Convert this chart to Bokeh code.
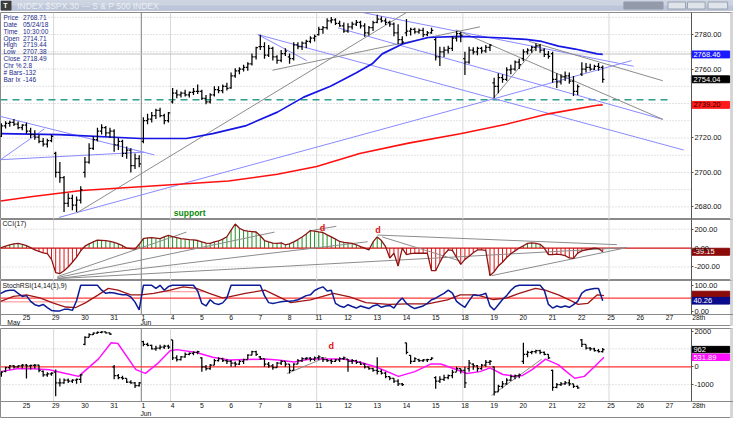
from bokeh.plotting import figure
from bokeh.models import Range1d, FixedTicker, NumeralTickFormatter, Label, LinearAxis
from bokeh.layouts import column
from bokeh.embed import file_html
from bokeh.resources import INLINE
from bokeh.core.properties import value

FONT = "Liberation Sans"

# ---------------- data ----------------
# hourly bars, index 0 = 24 May 10:30, 7 bars per session
price_open = [2714.71,2721,2727,2728.5,2729,2728,2726,
 2727.5,2724,2722,2720.5,2718,2716.5,2718.5,
 2711,2700,2697,2682,2685,2681,2684,
 2700,2706,2714,2719,2724,2726,2723,
 2724,2716,2718,2711,2713,2704,2708,
 2718,2730,2731,2733,2736,2733,2730,
 2741,2746,2745,2746,2745,2746.5,2747,
 2747,2743,2741,2745,2748,2747.5,2750,
 2749,2756,2759,2760,2761,2763,2767,
 2773,2773,2768,2772,2767,2765,2769,
 2767,2766,2774,2773,2775,2776,2778,
 2780,2783,2784,2788,2788.5,2786.5,2785,
 2782,2784.5,2786,2787,2785,2781,2784,
 2787,2789,2788,2787,2786,2781,2777,
 2781,2782,2783,2781.5,2782.5,2780,2781,
 2777,2767,2770,2771,2772,2778,2780.5,
 2766,2764,2771,2770,2772,2770.5,2772.5,
 2752,2750,2755,2754,2759.5,2760,2764,
 2766,2770,2771,2772.5,2773.5,2771,2768.5,
 2769,2754,2752.5,2755.5,2756,2753,2747,
 2757,2760,2761,2760,2761.5,2761]
price_high = [2719.44,2728.5,2729.7,2730,2731,2729.5,2728,
 2729,2726,2724.5,2722,2720,2719.5,2722,
 2712,2706,2698,2688,2687,2686,2692,
 2709,2717,2721,2726,2728,2727,2726,
 2725,2720,2719,2715,2714,2711,2710,
 2732,2734,2735,2737,2737.5,2734,2735,
 2749,2748,2747,2748,2747,2749,2751,
 2748,2745,2746,2750,2750,2751,2752,
 2758,2760.5,2761,2762.5,2764,2769,2773,
 2779.9,2775.5,2774,2773,2768,2771,2772,
 2769,2775.5,2775.5,2776,2777,2779,2780,
 2784.5,2785,2789.5,2790.2,2789.5,2788,2787,
 2786.5,2787.5,2788.5,2788,2786.5,2785,2788,
 2791.5,2790.5,2789.5,2788,2787,2786,2779,
 2789,2784,2784,2783.5,2784,2782,2784,
 2778,2773,2773,2773.5,2779,2782,2781.5,
 2770,2773,2772.7,2773,2773,2774,2774.5,
 2755,2757.5,2757,2761,2762.5,2765,2766,
 2771.5,2772,2773.5,2775,2774.5,2772,2770.5,
 2770,2757.5,2757,2758.5,2758,2756,2751,
 2764,2763.5,2763,2762.5,2763.5,2762]
price_low = [2707.38,2720.5,2725.5,2726.5,2727,2725,2724.5,
 2722.5,2720,2719,2717,2715,2714.5,2717.5,
 2697,2694,2677,2680,2678,2677,2682,
 2697,2705,2713,2718,2722,2721,2720,
 2712,2713,2709,2708,2700,2702,2703,
 2717,2728,2729,2731,2732,2728,2729,
 2740,2743,2743.5,2744,2743.5,2745,2745.5,
 2742,2739.5,2740,2744,2746,2746,2747.5,
 2748.5,2755,2757,2758.5,2759,2762,2765.5,
 2771,2766,2767,2765,2763,2764,2767.5,
 2763,2765,2771.5,2771,2772,2775,2776,
 2779.5,2780.5,2783,2786.5,2785.5,2784.5,2781,
 2781,2783,2785,2783.5,2778.8,2779.5,2782,
 2786.5,2787,2785.5,2784.5,2779,2774.5,2774.5,
 2779,2779.5,2780.5,2780.5,2778.5,2779,2780.5,
 2765,2761.7,2767,2769,2770.5,2776,2775.5,
 2756.6,2763,2768.5,2768,2769,2769.5,2770.5,
 2743.2,2746,2752,2753,2757,2759,2760,
 2764.5,2768.5,2769.5,2770.5,2769.5,2767,2766,
 2752,2749,2751,2753,2751.5,2744.4,2745,
 2756,2758,2759,2759.5,2759,2752]
price_close = [2718.49,2727,2728.5,2729,2728,2726,2727.5,
 2724,2722,2720.5,2718,2716.5,2718.5,2721,
 2700,2697,2682,2685,2681,2684,2690,
 2706,2714,2719,2724,2726,2723,2724,
 2716,2718,2711,2713,2704,2708,2705,
 2730,2731,2733,2736,2733,2730,2734.6,
 2746,2745,2746,2745,2746.5,2747,2747,
 2743,2741,2745,2748,2747.5,2750,2748.8,
 2756,2759,2760,2761,2763,2767,2772.4,
 2773,2768,2772,2767,2765,2769,2770.4,
 2766,2774,2773,2775,2776,2778,2779,
 2783,2784,2788,2788.5,2786.5,2785,2782,
 2784.5,2786,2787,2785,2781,2784,2786.9,
 2789,2788,2787,2786,2781,2777,2775.6,
 2782,2783,2781.5,2782.5,2780,2781,2782.5,
 2767,2770,2771,2772,2778,2780.5,2779.7,
 2764,2771,2770,2772,2770.5,2772.5,2773.8,
 2750,2755,2754,2759.5,2760,2764,2762.6,
 2770,2771,2772.5,2773.5,2771,2768.5,2767.3,
 2754,2752.5,2755.5,2756,2753,2747,2749.8,
 2760,2761,2760,2761.5,2761,2754.04]

# moving averages (bar index, level)
ma_fast_bar = [0.8,14.8,34.3,45.3,51.6,59.4,67.1,73.4,79.8,85.9,89.8,92.2,96.9,103.2,110.9,118.7,126.6,130.4,134.4,138.4,143.7,145]
ma_fast_val = [2722.5,2722,2719.7,2719.7,2722.5,2727,2735,2743.7,2750,2757.7,2763,2768.8,2774.4,2778.3,2779,2778.3,2777.2,2776,2773.3,2771.6,2768.8,2768.46]
ma_slow_bar = [0.8,8.5,20.2,34.3,55.4,67.1,76.5,86.8,98.5,110.9,121.9,132,143.7,145]
ma_slow_val = [2683.4,2686,2689.5,2691.7,2695,2699,2703.5,2711,2717,2722.5,2728,2734,2739,2739.2]

support_level = 2742.2
support_end = 161.3
cursor_price = 2768.71

# drawn trend lines (bar0, price0, bar1, price1)
blue_lines = [(0.8,2732.5,37.6,2710.2),(0.8,2707.4,35.2,2711.8),(0.8,2707.4,11.3,2725.3),
              (14.8,2673.9,118.7,2742.6),(118.7,2742.6,151.9,2764.9),(87.5,2792.8,152.4,2761.6),
              (62.4,2780.0,164.4,2713.0),(81.6,2783.9,159.4,2730.8),(62.4,2780.0,74.1,2764.9)]
gray_lines = [(19.1,2676.6,98.0,2792.8),(65.9,2759.3,115.6,2784.5),(109.8,2782.8,159.4,2730.8),
              (127.3,2776.1,159.4,2753.2),(118.7,2742.6,129.7,2774.4)]

cci = [0,5,20,33,45,50,40,
 25,5,-20,-35,-50,-60,-120,
 -260,-270,-240,-200,-150,-95,-30,
 20,45,65,85,82,78,70,
 60,45,25,0,-5,-12,40,
 100,108,110,105,100,118,135,
 120,110,100,95,90,87,80,
 65,52,50,65,75,95,120,
 190,255,210,187,180,175,170,
 130,80,65,52,50,55,35,
 45,65,90,118,150,185,180,
 172,165,140,118,95,70,60,
 55,50,35,15,0,-20,65,
 118,80,15,-105,-55,-190,0,
 -70,-60,-53,-55,-55,-53,-240,
 -240,-150,-70,-20,-25,-100,-172,
 -120,-87,-50,-20,-20,-25,-292,
 -250,-190,-150,-100,-60,-30,0,
 25,50,55,50,40,0,-70,
 -70,-65,-70,-80,-105,-110,-53,
 -30,-20,-10,0,-5,-39.15]
cci_lines = [(14.4,-303,45.3,169),(14.4,-313,66.4,169),(14.4,-323,88.7,67),(14.8,-323,150.8,5),
             (91.0,138,148.4,36),(75.8,190,81.2,231),(92.2,118,110.9,-138),(118.4,-292,150.8,5)]
cci_marks = [(77.9,215),(91.2,195)]

stoch = [63,70,78,81,81,69,57,
 60,38,25,20,26,14,3,
 1,1,7,7,3,40,100,
 100,100,100,100,81,69,72,
 70,66,63,63,55,35,5,
 100,100,100,88,100,81,95,
 100,100,100,100,100,100,78,
 30,20,44,30,26,32,51,
 100,100,100,100,100,100,100,
 100,60,33,30,33,36,38,
 38,40,44,52,60,63,80,
 88,94,78,81,30,20,15,
 25,18,12,20,15,10,20,
 25,15,20,22,12,35,51,
 30,18,10,15,20,30,44,
 50,60,69,81,70,38,25,
 15,40,63,60,63,69,20,
 5,25,45,60,81,95,100,
 100,100,100,100,100,81,26,
 12,20,15,20,15,25,38,
 70,81,85,88,88,40.26]
signal_bar = [0.8,3.9,7,10.2,13.3,16.4,18.8,21.1,24.2,26.6,28.9,32,34.4,37.5,41.4,44.5,47.7,50.8,53.9,55.5,
              59.4,64.1,70.3,75,80.5,84.4,88.3,93.7,98.4,103.1,107.8,110.9,114.8,118.8,121.9,125,128.9,
              131.2,134.4,137.5,139.1,141.4,143.7,145.3]
signal_val = [38,57,63,51,32,16,14,32,63,88,81,63,63,69,81,94,88,69,51,55,
              69,81,33,44,69,55,33,26,28,28,44,63,63,45,50,69,88,
              81,63,40,26,30,63,60]
stoch_mid = 50
stoch_marks = [(0.8,36,21.1,36),(39.1,75,49.6,75)]

osc_open = [-500,-400,-250,-50,50,0,50,
 100,50,80,100,-250,-450,-400,
 -300,-900,-900,-750,-800,-750,-700,
 1250,1650,1800,1880,1930,1950,1900,
 0,-500,-600,-650,-850,-900,-1050,
 1400,1250,1200,1000,1050,1100,1150,
 1500,500,400,550,700,750,800,
 500,0,-100,100,350,450,350,
 300,200,150,300,400,650,850,
 550,450,150,50,-50,200,300,
 150,-200,150,350,450,480,420,
 500,500,400,350,300,380,450,
 430,300,350,250,150,0,-100,
 -200,-250,-350,-550,-650,-800,-950,
 1340,640,300,400,350,380,400,
 -600,-800,-700,-600,-500,-300,-100,
 -200,-100,150,50,-100,100,250,
 0,-1400,-1100,-950,-750,-550,-500,
 300,700,800,850,900,800,700,
 -200,-1150,-1000,-950,-900,-950,-1100,
 1500,1250,1050,1000,900,850]
osc_high = [-200,-250,0,100,100,80,150,
 150,120,150,120,-200,-300,-300,
 -150,-650,-650,-650,-700,-650,-400,
 1700,1870,1920,1970,1980,1960,1900,
 100,-400,-500,-650,-750,-850,-850,
 1450,1350,1230,1180,1230,1230,1230,
 1500,640,600,800,800,850,900,
 535,100,160,430,530,500,430,
 375,300,375,450,700,900,900,
 600,450,270,160,270,375,300,
 160,200,430,530,530,530,580,
 640,550,430,430,430,530,580,
 430,430,400,300,200,0,-50,
 530,-150,-270,-535,-640,-700,-900,
 1340,640,535,450,430,450,530,
 -535,-535,-450,-430,-160,0,-100,
 0,375,200,100,160,375,375,
 0,-1000,-800,-640,-430,-430,-375,
 1340,900,900,950,950,850,700,
 -160,-900,-850,-800,-700,-950,-1050,
 1550,1250,1100,1070,1000,1050]
osc_low = [-700,-550,-300,-150,-100,-50,-100,
 -650,-150,-100,-300,-550,-550,-500,
 -1650,-1100,-950,-900,-900,-950,-900,
 1200,1650,1780,1850,1880,1860,1780,
 -700,-700,-720,-900,-950,-1180,-1100,
 1150,1150,960,900,960,1000,1000,
 375,300,350,500,640,650,700,
 -270,-200,-160,80,300,270,160,
 0,0,100,160,430,640,600,
 375,0,-50,-160,-50,100,0,
 -375,-200,150,270,375,300,330,
 375,270,270,160,270,270,375,
 -270,160,160,100,-100,-160,-270,
 -430,-430,-640,-750,-900,-1070,-1070,
 700,160,270,270,270,270,375,
 -1230,-900,-800,-700,-640,-270,-375,
 -1180,-270,-160,-270,-160,0,100,
 -1600,-1400,-1200,-1000,-800,-700,-640,
 160,535,700,750,700,640,430,
 -1340,-1200,-1070,-1000,-1070,-1180,-1230,
 1100,960,900,850,800,800]
osc_close = [-300,-300,-50,50,0,50,100,
 50,80,100,-200,-450,-400,-350,
 -900,-900,-750,-800,-750,-700,-450,
 1650,1800,1880,1930,1950,1900,1820,
 -500,-600,-650,-850,-900,-1050,-900,
 1250,1200,1000,1050,1100,1150,1100,
 500,400,550,700,750,800,850,
 0,-100,100,350,450,350,300,
 200,150,300,400,650,850,700,
 450,150,50,-50,200,300,150,
 -200,150,350,450,480,420,500,
 550,400,350,300,380,450,500,
 300,350,250,150,0,-100,-200,
 -250,-350,-550,-650,-800,-950,-1000,
 800,300,450,350,380,400,480,
 -800,-700,-600,-500,-300,-100,-200,
 -900,200,50,-100,100,250,300,
 -1400,-1100,-950,-750,-550,-500,-450,
 700,800,850,900,800,700,500,
 -1150,-1000,-950,-900,-950,-1100,-1180,
 1250,1050,1000,900,850,962]
smooth_bar = [0.8,4.7,8.6,12.5,16.4,19.5,24.2,27.3,28.9,33.2,35.5,38.3,41.4,43,47.7,51.6,55.5,
              64,67.2,71.1,75,82.8,86.7,90.6,96.1,100,103.9,106.2,109.4,112.5,115.6,118,
              121.1,124.2,125.8,128.1,131.3,134.4,136.3,138.3,140.6,143,145.3]
smooth_val = [-270,-110,-110,-160,-370,-535,430,1340,1300,-160,-370,160,900,960,800,535,375,
              430,375,270,430,430,270,0,-535,-270,160,160,-110,-370,-270,-60,
              -430,-535,-480,-160,430,110,-270,-640,-535,0,531.89]
osc_lines = [(69.4,-375,78.8,535),(118.4,-1600,130.4,430)]
osc_marks = [(80,1177)]

day_names = ["25","29","30","31","1","4","5","6","7","8","11","12","13","14","15",
             "18","19","20","21","22","25","26","27","28th"]
week_lines = [13.5, 41.5, 76.5, 111.5, 146.5]
month_line = 34.5

# ---------------- geometry ----------------
W = 733
SX = 733 / 749.0
SY = 418 / 434.0


def bar_at(px):            # reference pixel column -> bar index
    return 35 + (px - 146) / 4.267


X0 = bar_at(0)
XA = bar_at(706)           # price-scale line
XB = bar_at(745)           # right end of value tags
XR = bar_at(749)
xr = Range1d(X0, XR)
day_ticks = [7 * (k + 1) for k in range(len(day_names))]
BAR_W = 0.42


def panel(h, ylo, yhi, dlo, dhi, ticks, fmt, hgrid, xaxis_at=None, xstandoff=0):
    p = figure(width=W, height=h, x_range=xr, y_range=Range1d(ylo, yhi),
               x_axis_location=None, y_axis_location=None,
               output_backend="svg", toolbar_location=None,
               min_border_left=0, min_border_right=0, min_border_top=0, min_border_bottom=0)
    p.grid.visible = False
    p.background_fill_color = "white"
    p.border_fill_color = "white"
    p.outline_line_color = "#8a8a8a"
    # window edge strip on the far right
    p.quad(left=[bar_at(746)], right=[XR], bottom=[ylo], top=[yhi], color="#d6d6d6")
    # dotted level lines and weekly separators
    p.segment(x0=[X0] * len(hgrid), y0=hgrid, x1=[XA] * len(hgrid), y1=hgrid,
              color="#c4c4c4", line_width=1, line_dash="1 2")
    p.segment(x0=week_lines, y0=[dlo] * len(week_lines), x1=week_lines, y1=[dhi] * len(week_lines),
              color="#d8d8d8", line_width=1)
    p.segment(x0=[month_line], y0=[dlo], x1=[month_line], y1=[dhi], color="#7c7c7c", line_width=1)
    ax = LinearAxis(fixed_location=XA, bounds=(dlo, dhi))
    ax.ticker = FixedTicker(ticks=ticks)
    ax.formatter = NumeralTickFormatter(format=fmt)
    ax.major_label_text_font = FONT
    ax.major_label_text_font_size = "7.5px"
    ax.major_label_text_color = "#111111"
    ax.axis_line_color = "#555555"
    ax.major_tick_in = 0
    ax.major_tick_out = 2
    ax.major_tick_line_color = "#555555"
    ax.minor_tick_line_color = None
    ax.major_label_standoff = 1
    p.add_layout(ax, "right")
    if xaxis_at is not None:
        xa = LinearAxis(fixed_location=xaxis_at)
        xa.ticker = FixedTicker(ticks=day_ticks)
        xa.major_label_overrides = {t: n for t, n in zip(day_ticks, day_names)}
        xa.major_label_text_font = FONT
        xa.major_label_text_font_size = "6.8px"
        xa.major_label_text_color = "#111111"
        xa.axis_line_color = "#8a8a8a"
        xa.major_tick_line_color = None
        xa.major_tick_in = 0
        xa.major_tick_out = 0
        xa.minor_tick_line_color = None
        xa.minor_tick_in = 0
        xa.minor_tick_out = 0
        xa.major_label_standoff = xstandoff
        p.add_layout(xa, "below")
    return p


def tag(p, text, y, half_h, bg, fg="white"):
    p.quad(left=[XA], right=[XB], bottom=[y - half_h], top=[y + half_h], color=bg)
    if text:
        p.text(x=[bar_at(708)], y=[y], text=[text], text_color=fg, text_font=value(FONT),
               text_font_size="7.5px", text_baseline="middle", text_align="left")


def ohlc(p, o, h, l, c, color="black", lw=1.25):
    xs = list(range(len(o)))
    p.segment(x0=xs, y0=l, x1=xs, y1=h, color=color, line_width=lw)
    p.segment(x0=[x - BAR_W for x in xs], y0=o, x1=xs, y1=o, color=color, line_width=lw)
    p.segment(x0=xs, y0=c, x1=[x + BAR_W for x in xs], y1=c, color=color, line_width=lw)


def seglist(p, segs, color, lw=1):
    p.segment(x0=[s[0] for s in segs], y0=[s[1] for s in segs],
              x1=[s[2] for s in segs], y1=[s[3] for s in segs], color=color, line_width=lw)


def caption(p, text, x, y):
    p.text(x=[x], y=[y], text=[text], text_color="#111111", text_font=value(FONT),
           text_font_size="6.8px", text_baseline="middle", text_align="left")


# ---------------- title bar ----------------
tb = figure(width=W, height=12, x_range=Range1d(0, W), y_range=Range1d(0, 12),
            x_axis_location=None, y_axis_location=None, output_backend="svg", toolbar_location=None,
            min_border_left=0, min_border_right=0, min_border_top=0, min_border_bottom=0)
tb.outline_line_color = None
tb.grid.visible = False
tb.background_fill_color = "white"
tb.border_fill_color = "white"
tb.quad(left=[0], right=[W], bottom=[2], top=[12], color="#bcc6d8")
tb.quad(left=[0], right=[W], bottom=[7.5], top=[12], color="#ccd4e2")
tb.quad(left=[0.5], right=[10.5], bottom=[2.5], top=[11.5], color="#3c3c3c")
tb.text(x=[2.8], y=[7], text=["T"], text_color="white", text_font_size="7px",
        text_font=value(FONT), text_baseline="middle", text_font_style="bold")
tb.text(x=[17 * SX], y=[7], text=["INDEX $SPX.30 \u2014 S & P 500 INDEX"], text_color="#f6f8fb",
        text_font_size="8.5px", text_font=value(FONT), text_baseline="middle", text_alpha=0.8)
tb.quad(left=[637 * SX], right=[677 * SX], bottom=[3.5], top=[10.5], color="#939bab")
tb.quad(left=[682 * SX, 702 * SX, 723 * SX], right=[700 * SX, 720 * SX, 743 * SX],
        bottom=[3.5] * 3, top=[10.5] * 3, color="#dfe3ea", line_color="#9aa2b0")

# ---------------- price panel ----------------
PLO, PHI = 2672.7, 2792.8
main = panel(207, PLO, PHI, PLO, PHI, [2680, 2700, 2720, 2760, 2780], "0.00",
             [2680, 2690, 2700, 2710, 2720, 2730, 2740, 2750, 2760, 2770, 2780, 2790])
main.segment(x0=[X0], y0=[cursor_price], x1=[XA], y1=[cursor_price], color="#c4c4c4", line_width=1)
main.segment(x0=[X0], y0=[support_level], x1=[support_end], y1=[support_level],
             color="#2f9c8c", line_width=1.6, line_dash="7 5")
seglist(main, blue_lines, "#8a8aff", 1)
seglist(main, gray_lines, "#8c8c8c", 1)
main.line(ma_slow_bar, ma_slow_val, color="#ff1010", line_width=1.6)
main.line(ma_fast_bar, ma_fast_val, color="#1515e6", line_width=1.7)
ohlc(main, price_open, price_high, price_low, price_close)
main.text(x=[42.3], y=[2676.6], text=["support"], text_color="#0a8a0a", text_font_size="8.5px",
          text_font=value(FONT), text_font_style="bold", text_baseline="middle")
dw_names = ["Price", "Date", "Time", "Open", "High", "Low", "Close", "Chr %", "# Bars", "Bar Ix"]
dw_vals = ["2768.71", "05/24/18", "10:30:00", "2714.71", "2719.44", "2707.38", "2718.49", "2.8", "-132", "-146"]
for i, (n, v) in enumerate(zip(dw_names, dw_vals)):
    yy = 207 - (17.3 + 7.1 * i - 12) * SY
    main.add_layout(Label(x=3, y=yy, x_units="screen", y_units="screen", text=n, text_font=FONT,
                          text_font_size="6.5px", text_color="#1a2a8a", text_baseline="middle"))
    main.add_layout(Label(x=23 * SX, y=yy, x_units="screen", y_units="screen", text=v, text_font=FONT,
                          text_font_size="6.5px", text_color="#1a2a8a", text_baseline="middle"))
tag(main, "2768.46", ma_fast_val[-1], 2.0, "#1a1aff")
tag(main, "2754.04", price_close[-1], 2.0, "#000000")
tag(main, "2739.20", ma_slow_val[-1], 2.0, "#ff1a1a", "#2a0000")

# ---------------- CCI panel ----------------
CLO, CHI = -343.6, 302.6
cp = panel(61, CLO, CHI, CLO, CHI, [200, 0, -200], "0.00", [200, -200])
bars = list(range(len(cci)))
up = [(b, v) for b, v in zip(bars, cci) if v > 0]
dn = [(b, v) for b, v in zip(bars, cci) if v < 0]
cp.segment(x0=[b for b, v in up], y0=[0] * len(up), x1=[b for b, v in up], y1=[v for b, v in up],
           color="#1f8f1f", line_width=1)
cp.segment(x0=[b for b, v in dn], y0=[0] * len(dn), x1=[b for b, v in dn], y1=[v for b, v in dn],
           color="#e01515", line_width=1)
cp.segment(x0=[X0], y0=[0], x1=[XA], y1=[0], color="#d01010", line_width=1.2)
seglist(cp, cci_lines, "#8c8c8c", 1)
cp.line(bars, cci, color="#8b1515", line_width=1.3)
cp.text(x=[m[0] for m in cci_marks], y=[m[1] for m in cci_marks], text=["d"] * len(cci_marks),
        text_color="#e01010", text_font_size="9px", text_font=value(FONT), text_font_style="bold",
        text_align="center", text_baseline="middle")
caption(cp, "CCI(17)", bar_at(2), 255)
tag(cp, "-39.15", cci[-1], 37, "#8b0b0b")

# ---------------- StochRSI panel ----------------
SLO, SHI, SDLO = -59.3, 118.5, -11.1
sp = panel(46, SLO, SHI, SDLO, SHI, [100, 0], "0.00", [], xaxis_at=SDLO, xstandoff=0)
sp.segment(x0=[X0], y0=[stoch_mid], x1=[XA], y1=[stoch_mid], color="#ff3a3a", line_width=1.3)
seglist(sp, stoch_marks, "#ff8a8a", 1)
sp.line(signal_bar, signal_val, color="#a01515", line_width=1.3)
sp.line(list(range(len(stoch))), stoch, color="#0c1c96", line_width=1.5)
caption(sp, "StochRSI(14,14(1),9)", bar_at(2), 100)
tag(sp, "", 64, 13, "#8b0b0b")
tag(sp, "40.26", stoch[-1], 13, "#0a0a8a")
caption(sp, "May", bar_at(7), -43)
caption(sp, "Jun", bar_at(143), -43)

# ---------------- separator ----------------
sep = figure(width=W, height=2, x_range=Range1d(0, 1), y_range=Range1d(0, 1),
             x_axis_location=None, y_axis_location=None, output_backend="svg", toolbar_location=None,
             min_border_left=0, min_border_right=0, min_border_top=0, min_border_bottom=0)
sep.outline_line_color = None
sep.grid.visible = False
sep.background_fill_color = "#c6c6c6"
sep.border_fill_color = "#c6c6c6"

# ---------------- lower oscillator panel ----------------
BLO, BHI, BDLO = -2889, 2140, -1926
bp = panel(90, BLO, BHI, BDLO, BHI, [2000, 0, -1000], "0", [1000, -1000], xaxis_at=BDLO, xstandoff=1)
bp.segment(x0=[X0], y0=[0], x1=[XA], y1=[0], color="#ff3030", line_width=1.3)
seglist(bp, osc_lines, "#8c8c8c", 1)
bp.line(smooth_bar, smooth_val, color="#ff10ff", line_width=1.5)
ohlc(bp, osc_open, osc_high, osc_low, osc_close)
bp.text(x=[m[0] for m in osc_marks], y=[m[1] for m in osc_marks], text=["d"] * len(osc_marks),
        text_color="#e01010", text_font_size="9px", text_font=value(FONT), text_font_style="bold",
        text_align="center", text_baseline="middle")
tag(bp, "962", osc_close[-1], 180, "#000000")
tag(bp, "531.89", smooth_val[-1], 180, "#ff10ff")
caption(bp, "Jun", bar_at(143), -2584)

layout = column(tb, main, cp, sp, sep, bp, spacing=0)
open("out.html", "w").write(file_html(layout, INLINE))
